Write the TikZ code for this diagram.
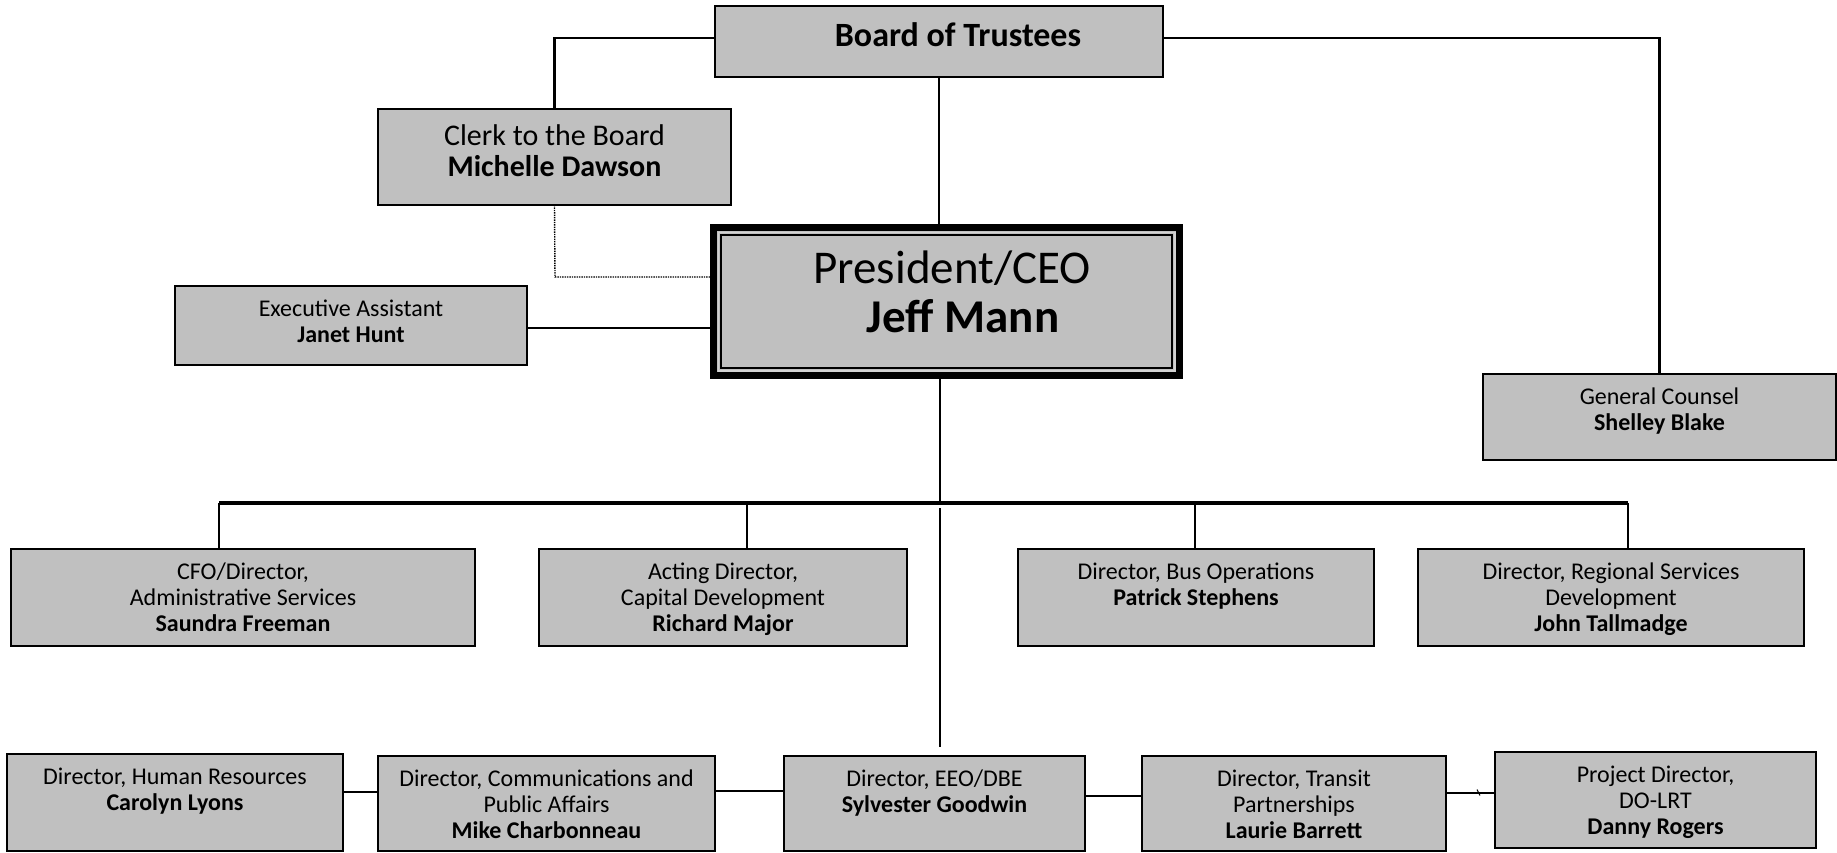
\documentclass[tikz,border=0pt]{standalone}
\usepackage{fontspec}
\setmainfont{Carlito}
\definecolor{boxgray}{HTML}{C0C0C0}
\begin{document}
\begin{tikzpicture}[x=1pt,y=-1pt,
  box/.style={draw=black, fill=boxgray, line width=2pt, rectangle, inner sep=0pt, outer sep=0pt},
  ceobox/.style={draw=black, fill=boxgray, line width=7pt, rectangle, inner sep=0pt, outer sep=0pt},
  smalltxt/.style={font=\fontsize{24}{26}\selectfont, align=center, inner sep=0pt, anchor=north, yshift=-14pt},
  clerktxt/.style={font=\fontsize{30}{31.5}\selectfont, align=center, inner sep=0pt, anchor=north, yshift=-15pt},
  boardtxt/.style={font=\fontsize{34}{36}\selectfont\bfseries, inner sep=0pt},
  ceotxt/.style={font=\fontsize{47}{49}\selectfont, align=center, inner sep=0pt},
  conn/.style={draw=black, line width=2.8pt},
  thinconn/.style={draw=black, line width=1.6pt},
  dotconn/.style={draw=black, line width=1.4pt, densely dotted}
]
\useasboundingbox (0,0) rectangle (1837,852);

% ---------- boxes ----------
\node[box, minimum width=448pt, minimum height=71pt,
  label={[boardtxt, xshift=19pt, yshift=7pt]center:{Board of Trustees}}] (board) at (939,41.5) {};
\node[box, minimum width=353pt, minimum height=96pt,
  label={[clerktxt]north:{Clerk to the Board\\\textbf{Michelle Dawson}}}] (clerk) at (554.5,157) {};
\node[box, minimum width=352pt, minimum height=79pt,
  label={[smalltxt]north:{Executive Assistant\\\textbf{Janet Hunt}}}] (exec) at (351,325.5) {};
\node[box, minimum width=353pt, minimum height=86pt,
  label={[smalltxt]north:{General Counsel\\\textbf{Shelley Blake}}}] (gc) at (1659.5,417) {};

\node[ceobox, minimum width=466pt, minimum height=148pt] (ceo) at (946.5,301.5) {};
\draw[gray!35, line width=1.2pt] ([shift={(4.6pt,-4.6pt)}]ceo.north west) rectangle ([shift={(-4.6pt,4.6pt)}]ceo.south east);
\draw[black, line width=1.6pt] ([shift={(7.5pt,-7.5pt)}]ceo.north west) rectangle ([shift={(-7.5pt,7.5pt)}]ceo.south east);
\node[ceotxt, anchor=north] (ceotext) at (952,250.5) {President/CEO\\\hspace*{22pt}\textbf{Jeff Mann}};

\node[box, minimum width=464pt, minimum height=97pt,
  label={[smalltxt]north:{CFO/Director,\\Administrative Services\\\textbf{Saundra Freeman}}}] (cfo) at (243,597.5) {};
\node[box, minimum width=368pt, minimum height=97pt,
  label={[smalltxt]north:{Acting Director,\\Capital Development\\\textbf{Richard Major}}}] (acting) at (723,597.5) {};
\node[box, minimum width=356pt, minimum height=97pt,
  label={[smalltxt]north:{Director, Bus Operations\\\textbf{Patrick Stephens}}}] (busops) at (1196,597.5) {};
\node[box, minimum width=386pt, minimum height=97pt,
  label={[smalltxt]north:{Director, Regional Services\\Development\\\textbf{John Tallmadge}}}] (regional) at (1611,597.5) {};

\node[box, minimum width=336pt, minimum height=97pt,
  label={[smalltxt]north:{Director, Human Resources\\\textbf{Carolyn Lyons}}}] (hr) at (175,802.5) {};
\node[box, minimum width=337pt, minimum height=95pt,
  label={[smalltxt]north:{Director, Communications and\\Public Affairs\\\textbf{Mike Charbonneau}}}] (comm) at (546.5,803.5) {};
\node[box, minimum width=301pt, minimum height=95pt,
  label={[smalltxt]north:{Director, EEO/DBE\\\textbf{Sylvester Goodwin}}}] (eeo) at (934.5,803.5) {};
\node[box, minimum width=304pt, minimum height=95pt,
  label={[smalltxt]north:{Director, Transit\\Partnerships\\\textbf{Laurie Barrett}}}] (transit) at (1294,803.5) {};
\node[box, minimum width=321pt, minimum height=96pt,
  label={[smalltxt]north:{Project Director,\\DO-LRT\\\textbf{Danny Rogers}}}] (project) at (1655.5,800) {};

% ---------- connectors ----------
\coordinate (busL) at (219,503);
\coordinate (busR) at (1628,503);
\coordinate (busC) at (940,503);
\coordinate (dropA) at (747,503);
\coordinate (dropB) at (1195,503);
\coordinate (dotc) at (555,277);
\coordinate (thinTop) at (940,508);
\coordinate (thinBot) at (940,747);

\draw[conn] ([yshift=3.5pt]board.west) -| (clerk.north);
\draw[conn] ([yshift=3.5pt]board.east) -| (gc.north);
\draw[conn] (board.south) -- (board.south |- ceo.north);
\draw[dotconn] (clerk.south) -- (dotc) -- (dotc -| ceo.west);
\draw[conn] ([yshift=-2.5pt]exec.east) -- ([yshift=-2.5pt]exec.east -| ceo.west);
\draw[conn] (busC |- ceo.south) -- (busC);
\draw[line width=3.2pt] (busL) -- (busR);
\draw[conn] (busL) -- (busL |- cfo.north);
\draw[conn] (dropA) -- (dropA |- acting.north);
\draw[conn] (dropB) -- (dropB |- busops.north);
\draw[conn] (busR) -- (busR |- regional.north);
\draw[thinconn] (thinTop) -- (thinBot);

\draw[thinconn] ([yshift=10.5pt]hr.east) -- ([yshift=10.5pt]hr.east -| comm.west);
\draw[thinconn] ([yshift=12.5pt]comm.east) -- ([yshift=12.5pt]comm.east -| eeo.west);
\draw[conn] ([yshift=7.5pt]eeo.east) -- ([yshift=7.5pt]eeo.east -| transit.west);
\draw[thinconn] ([yshift=10.5pt]transit.east) -- ([yshift=10.5pt]transit.east -| project.west);
\draw[black, line width=1pt] ([shift={(31pt,14pt)}]transit.east) -- ([shift={(34pt,8pt)}]transit.east);
\end{tikzpicture}
\end{document}
